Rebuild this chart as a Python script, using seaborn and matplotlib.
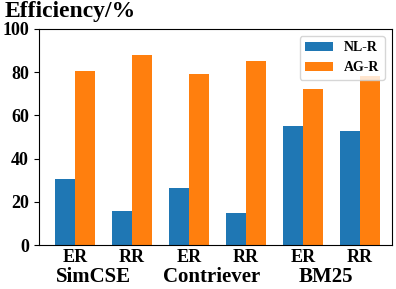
import pandas as pd
import matplotlib.pyplot as plt
import seaborn as sns

plt.rcParams['font.family'] = ['Liberation Serif', 'DejaVu Serif']
plt.rcParams['font.weight'] = 'bold'

models = ["SimCSE", "Contriever", "BM25"]
tasks = ["ER", "RR"]
nl_r = [30.5, 15.7, 26.4, 14.8, 55.0, 52.8]
ag_r = [80.5, 88.0, 79.0, 85.3, 72.2, 78.0]

keys = [m + "-" + t for m in models for t in tasks]
df = pd.DataFrame({"key": keys * 2,
                   "Efficiency": nl_r + ag_r,
                   "Method": ["NL-R"] * 6 + ["AG-R"] * 6})

fig = plt.figure(figsize=(3.96, 2.89), dpi=100)
ax = fig.add_axes([0.098, 0.152, 0.892, 0.748])
sns.barplot(data=df, x="key", y="Efficiency", hue="Method", order=keys,
            hue_order=["NL-R", "AG-R"], palette=["#1f77b4", "#ff7f0e"],
            width=0.7, saturation=1, ax=ax)

ax.set_ylim(0, 100)
ax.set_xlim(-0.63, 5.56)
ax.set_yticks([0, 20, 40, 60, 80, 100])
ax.set_xticks(range(6))
ax.set_xticklabels([t for m in models for t in tasks])
ax.tick_params(labelsize=13)
ax.tick_params(axis="x", length=0, pad=3)
for lab in ax.get_xticklabels() + ax.get_yticklabels():
    lab.set_fontweight('bold')
ax.set_xlabel("")
ax.set_ylabel("")

# group names under the task labels
for x, m in zip([0.32, 2.4, 4.4], models):
    ax.text(x, -0.1, m, transform=ax.get_xaxis_transform(),
            ha="center", va="top", fontsize=15, fontweight="bold")

fig.text(0.012, 0.995, "Efficiency/%", ha="left", va="top",
         fontsize=17, fontweight="bold")

leg = ax.legend(loc="upper right", fontsize=10, title=None)
for t in leg.get_texts():
    t.set_fontweight('bold')

fig.savefig("out.png", dpi=100)
